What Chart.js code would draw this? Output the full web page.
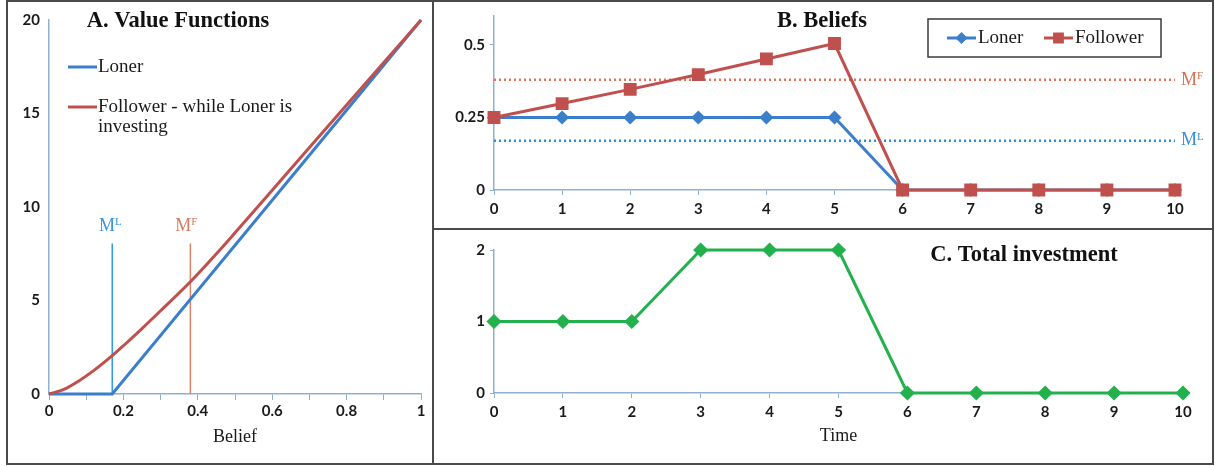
<!DOCTYPE html>
<html>
<head>
<meta charset="utf-8">
<script src="https://cdn.jsdelivr.net/npm/chart.js@4.4.1/dist/chart.umd.min.js"></script>
<style>
  html, body { margin: 0; padding: 0; background: #fff; }
  #wrap { position: relative; width: 1215px; height: 466px; background: #fff; overflow: hidden; }
  .frame { position: absolute; box-sizing: border-box; border: 2px solid #4a4a4a; }
  canvas { position: absolute; }
</style>
</head>
<body>
<div id="wrap">
  <div class="frame" style="left:6px;top:0px;width:428px;height:465px;"></div>
  <div class="frame" style="left:432px;top:0px;width:782px;height:230px;"></div>
  <div class="frame" style="left:432px;top:228px;width:782px;height:237px;"></div>
  <canvas id="panelA" width="423" height="461" style="left:8px;top:2px;"></canvas>
  <canvas id="panelB" width="776" height="226" style="left:435px;top:2px;"></canvas>
  <canvas id="panelC" width="776" height="233" style="left:435px;top:230px;"></canvas>
</div>
<script>
// ---- A. Value functions over the belief ----
const beliefGrid    = [0, 0.04, 0.08, 0.12, 0.17, 0.2, 0.25, 0.3, 0.38, 0.45, 0.5, 0.6, 0.7, 0.8, 0.9, 1];
const followerValue = [0, 0.25, 0.7, 1.25, 2.05, 2.58, 3.5, 4.45, 6.0, 7.5, 8.62, 10.9, 13.18, 15.45, 17.73, 20];
const lonerBelief   = [0, 0.17, 1];
const lonerValue    = [0, 0, 20];
const thresholdL = 0.17;   // M^L
const thresholdF = 0.38;   // M^F
const markerTop  = 8.05;   // height of the threshold markers in panel A

// ---- B. Beliefs over time ----
const timeSteps          = [0, 1, 2, 3, 4, 5, 6, 7, 8, 9, 10];
const lonerBeliefPath    = [0.25, 0.25, 0.25, 0.25, 0.25, 0.25, 0, 0, 0, 0, 0];
const followerBeliefPath = [0.25, 0.298, 0.347, 0.398, 0.452, 0.505, 0, 0, 0, 0, 0];
const beliefTicks        = [0, 0.25, 0.5];

// ---- C. Total investment over time ----
const totalInvestment = [1, 1, 1, 2, 2, 2, 0, 0, 0, 0, 0];

const FAMILY = "'Liberation Serif', 'Times New Roman', serif";
const NUM_FAMILY = "Lato, 'Open Sans', sans-serif";
const BLUE = '#3b7fcc';
const RED = '#c0504d';
const GREEN = '#22b14c';
const AXIS = '#8fb0d0';
const TICK_FONT = { family: NUM_FAMILY, size: 15, weight: 'bold' };
const INK = '#1a1a1a';

Chart.defaults.font.family = FAMILY;
Chart.defaults.color = INK;

function pairs(xs, ys) { return xs.map((x, i) => ({ x: x, y: ys[i] })); }

function text(ctx, str, x, y, size, color, weight, align) {
  ctx.save();
  ctx.font = (weight || 'normal') + ' ' + size + 'px ' + FAMILY;
  ctx.fillStyle = color;
  ctx.textAlign = align || 'left';
  ctx.textBaseline = 'middle';
  ctx.fillText(str, x, y);
  ctx.restore();
}

// "M" with a raised letter, either centred on x or starting at x
function markLabel(ctx, sup, x, y, size, color, centred) {
  ctx.save();
  ctx.fillStyle = color;
  ctx.textBaseline = 'middle';
  ctx.textAlign = 'left';
  const supSize = Math.round(size * 0.62);
  ctx.font = size + 'px ' + FAMILY;
  const wM = ctx.measureText('M').width;
  ctx.font = supSize + 'px ' + FAMILY;
  const wS = ctx.measureText(sup).width;
  const x0 = centred ? x - (wM + wS) / 2 : x;
  ctx.font = size + 'px ' + FAMILY;
  ctx.fillText('M', x0, y);
  ctx.font = supSize + 'px ' + FAMILY;
  ctx.fillText(sup, x0 + wM, y - size * 0.22);
  ctx.restore();
}

function legendLine(ctx, x1, x2, y, color, style, r) {
  ctx.save();
  ctx.strokeStyle = color;
  ctx.fillStyle = color;
  ctx.lineWidth = 3;
  ctx.beginPath(); ctx.moveTo(x1, y); ctx.lineTo(x2, y); ctx.stroke();
  if (style) {
    Chart.helpers.drawPoint(ctx, { pointStyle: style, radius: r, borderWidth: 1 }, (x1 + x2) / 2, y);
  }
  ctx.restore();
}

// ---------------- Panel A ----------------
new Chart(document.getElementById('panelA'), {
  type: 'scatter',
  data: {
    datasets: [
      { data: pairs(lonerBelief, lonerValue), showLine: true, borderColor: BLUE, borderWidth: 3,
        pointRadius: 0, order: 1, clip: false },
      { data: pairs(beliefGrid, followerValue), showLine: true, borderColor: RED, borderWidth: 3,
        pointRadius: 0, cubicInterpolationMode: 'monotone', order: 0, clip: false },
      { data: [{ x: thresholdL, y: 0 }, { x: thresholdL, y: markerTop }], showLine: true,
        borderColor: '#2c9be0', borderWidth: 1.5, pointRadius: 0, order: 3 },
      { data: [{ x: thresholdF, y: 0 }, { x: thresholdF, y: markerTop }], showLine: true,
        borderColor: '#d8866b', borderWidth: 1.5, pointRadius: 0, order: 2 }
    ]
  },
  options: {
    responsive: false, animation: false, devicePixelRatio: 1,
    layout: { padding: { left: 0, right: 10, top: 15, bottom: 0 } },
    plugins: { legend: { display: false }, tooltip: { enabled: false } },
    scales: {
      x: {
        type: 'linear', min: 0, max: 1,
        afterFit: s => { s.height = 69; },
        ticks: { stepSize: 0.1, autoSkip: false, maxRotation: 0, padding: 2, font: TICK_FONT, color: INK,
          callback: v => { const k = Math.round(v * 10); return k % 2 === 0 ? String(k / 10) : ''; } },
        grid: { display: true, drawOnChartArea: false, drawTicks: true, tickLength: 6, color: AXIS },
        border: { color: AXIS, width: 1.5 },
        title: { display: true, text: 'Belief', font: { family: FAMILY, size: 18 }, color: INK,
          padding: { top: 0, bottom: 15 } }
      },
      y: {
        min: 0, max: 20,
        afterFit: s => { s.width = 41; },
        ticks: { stepSize: 5, padding: 9, font: TICK_FONT, color: INK },
        grid: { display: false, drawTicks: false },
        border: { color: AXIS, width: 1.5 }
      }
    }
  },
  plugins: [{
    id: 'panelAText',
    afterDraw(chart) {
      const ctx = chart.ctx, xs = chart.scales.x, ys = chart.scales.y;
      text(ctx, 'A. Value Functions', 170, 19, 22.5, '#111', 'bold', 'center');
      legendLine(ctx, 60, 89, 65, BLUE);
      text(ctx, 'Loner', 90, 65, 19, INK);
      legendLine(ctx, 60, 89, 105, RED);
      text(ctx, 'Follower - while Loner is', 90, 105, 19, INK);
      text(ctx, 'investing', 90, 125, 19, INK);
      const labelY = ys.getPixelForValue(markerTop) - 17;
      markLabel(ctx, 'L', xs.getPixelForValue(thresholdL) - 2, labelY, 18, '#3a95d8', true);
      markLabel(ctx, 'F', xs.getPixelForValue(thresholdF) - 4, labelY, 18, '#d27a5c', true);
    }
  }]
});

// ---------------- Panel B ----------------
new Chart(document.getElementById('panelB'), {
  type: 'scatter',
  data: {
    datasets: [
      { data: pairs(timeSteps, followerBeliefPath), showLine: true, borderColor: RED, borderWidth: 3,
        pointStyle: 'rect', pointRadius: 7, pointBackgroundColor: RED, pointBorderColor: RED,
        order: 0, clip: false },
      { data: pairs(timeSteps, lonerBeliefPath), showLine: true, borderColor: BLUE, borderWidth: 3,
        pointStyle: 'rectRot', pointRadius: 5, pointBackgroundColor: BLUE, pointBorderColor: BLUE,
        order: 1, clip: false },
      { data: [{ x: 0, y: thresholdF }, { x: 10, y: thresholdF }], showLine: true, borderColor: '#e4735a',
        borderWidth: 2.5, borderDash: [2, 3], pointRadius: 0, order: 2 },
      { data: [{ x: 0, y: thresholdL }, { x: 10, y: thresholdL }], showLine: true, borderColor: '#2d8fe0',
        borderWidth: 2.5, borderDash: [2, 3], pointRadius: 0, order: 3 }
    ]
  },
  options: {
    responsive: false, animation: false, devicePixelRatio: 1,
    layout: { padding: { left: 0, right: 36, top: 13, bottom: 0 } },
    plugins: { legend: { display: false }, tooltip: { enabled: false } },
    scales: {
      x: {
        type: 'linear', min: 0, max: 10,
        afterFit: s => { s.height = 38; },
        ticks: { stepSize: 1, autoSkip: false, maxRotation: 0, padding: 5, font: TICK_FONT, color: INK },
        grid: { display: true, drawOnChartArea: false, drawTicks: true, tickLength: 5, color: AXIS },
        border: { color: AXIS, width: 1.5 }
      },
      y: {
        min: 0, max: 0.6,
        afterFit: s => { s.width = 59; },
        afterBuildTicks: s => { s.ticks = beliefTicks.map(v => ({ value: v })); },
        ticks: { padding: 5, font: TICK_FONT, color: INK, callback: v => String(v) },
        grid: { display: true, drawOnChartArea: false, drawTicks: true, tickLength: 4, color: AXIS },
        border: { color: AXIS, width: 1.5 }
      }
    }
  },
  plugins: [{
    id: 'panelBText',
    afterDraw(chart) {
      const ctx = chart.ctx, ys = chart.scales.y, area = chart.chartArea;
      text(ctx, 'B. Beliefs', 387, 19, 22.5, '#111', 'bold', 'center');
      // legend box
      ctx.save();
      ctx.fillStyle = '#fff';
      ctx.fillRect(493, 17, 233, 38);
      ctx.strokeStyle = '#3a3a3a';
      ctx.lineWidth = 1.5;
      ctx.strokeRect(493, 17, 233, 38);
      ctx.restore();
      legendLine(ctx, 512, 541, 36, BLUE, 'rectRot', 4);
      legendLine(ctx, 609, 638, 36, RED, 'rect', 5.5);
      text(ctx, 'Loner', 543, 36, 19, INK);
      text(ctx, 'Follower', 640, 36, 19, INK);
      markLabel(ctx, 'F', area.right + 6, ys.getPixelForValue(thresholdF), 18, '#d9704f', false);
      markLabel(ctx, 'L', area.right + 6, ys.getPixelForValue(thresholdL), 18, '#3a8fd8', false);
    }
  }]
});

// ---------------- Panel C ----------------
new Chart(document.getElementById('panelC'), {
  type: 'scatter',
  data: {
    datasets: [
      { data: pairs(timeSteps, totalInvestment), showLine: true, borderColor: GREEN, borderWidth: 3,
        pointStyle: 'rectRot', pointRadius: 5.5, pointBackgroundColor: GREEN, pointBorderColor: GREEN,
        clip: false }
    ]
  },
  options: {
    responsive: false, animation: false, devicePixelRatio: 1,
    layout: { padding: { left: 0, right: 28, top: 20, bottom: 0 } },
    plugins: { legend: { display: false }, tooltip: { enabled: false } },
    scales: {
      x: {
        type: 'linear', min: 0, max: 10,
        afterFit: s => { s.height = 70; },
        ticks: { stepSize: 1, autoSkip: false, maxRotation: 0, padding: 5, font: TICK_FONT, color: INK },
        grid: { display: true, drawOnChartArea: false, drawTicks: true, tickLength: 5, color: AXIS },
        border: { color: AXIS, width: 1.5 },
        title: { display: true, text: 'Time', font: { family: FAMILY, size: 18 }, color: INK,
          padding: { top: 0, bottom: 16 } }
      },
      y: {
        min: 0, max: 2,
        afterFit: s => { s.width = 59; },
        ticks: { stepSize: 1, padding: 5, font: TICK_FONT, color: INK },
        grid: { display: true, drawOnChartArea: false, drawTicks: true, tickLength: 4, color: AXIS },
        border: { color: AXIS, width: 1.5 }
      }
    }
  },
  plugins: [{
    id: 'panelCText',
    afterDraw(chart) {
      text(chart.ctx, 'C. Total investment', 589, 25, 22.5, '#111', 'bold', 'center');
    }
  }]
});
</script>
</body>
</html>
